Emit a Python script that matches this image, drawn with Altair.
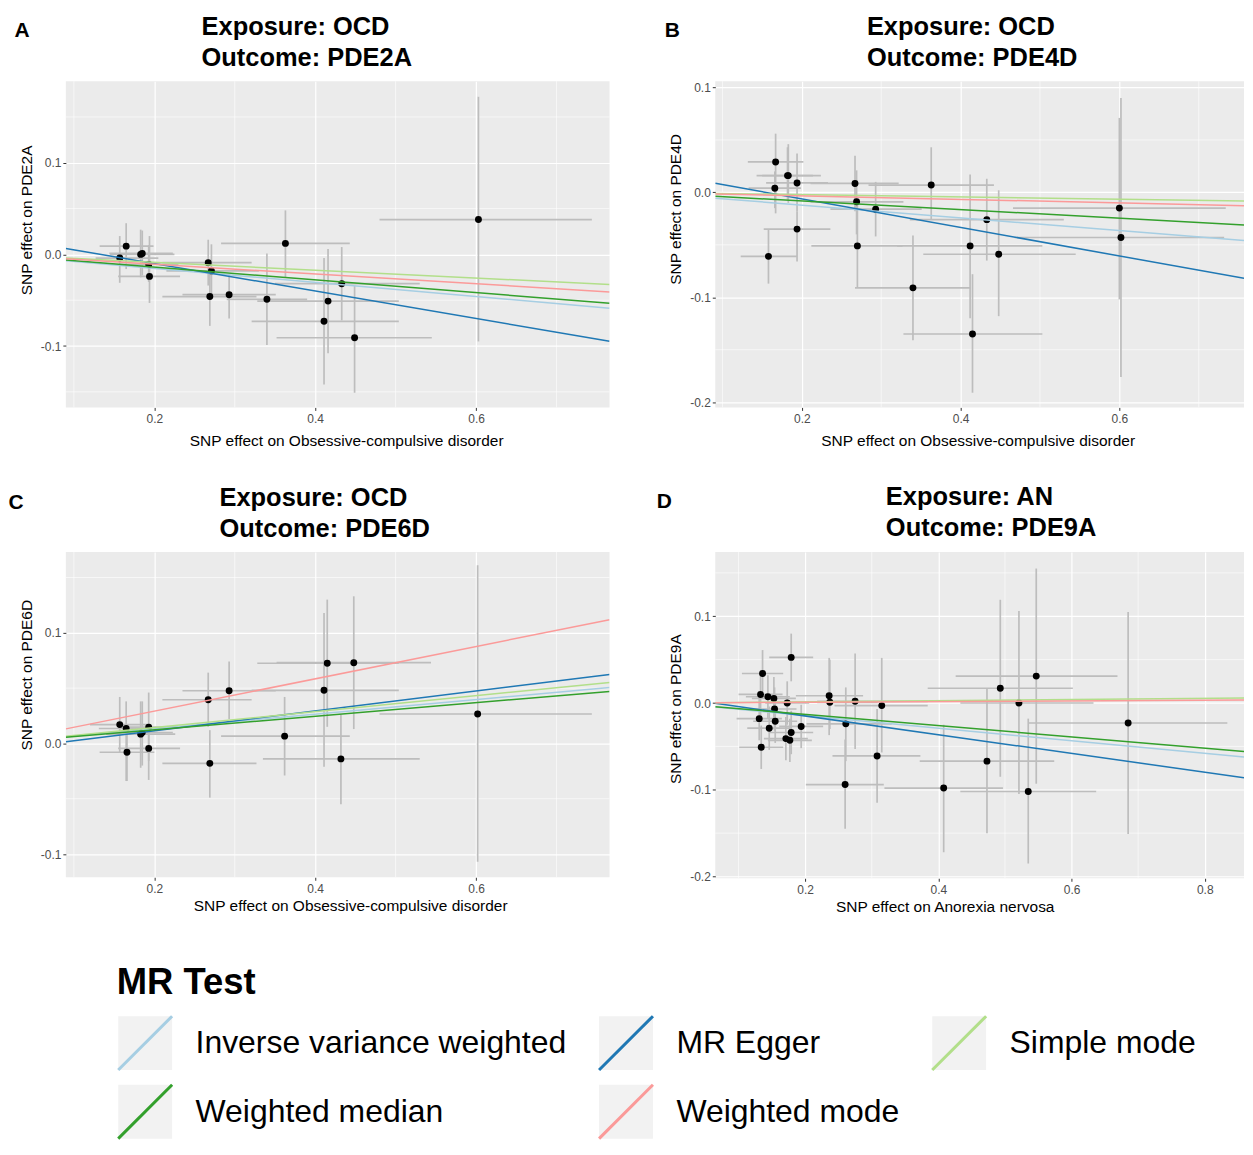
import altair as alt
import pandas as pd

FONT = "Liberation Sans"

methods = ["Inverse variance weighted", "MR Egger", "Simple mode", "Weighted median", "Weighted mode"]
method_colors = ["#a6cee3", "#1f78b4", "#b2df8a", "#33a02c", "#fb9a99"]
KEY_FILL = "#f2f2f2"
ERR = "#bdbdbd"

# ---------------- Panel A: OCD -> PDE2A ----------------
a_x   = [0.165, 0.157, 0.183, 0.185, 0.193, 0.194, 0.267, 0.271, 0.269, 0.293, 0.340, 0.363, 0.416, 0.411, 0.433, 0.449, 0.603]
a_y   = [0.009, -0.004, 0.000, 0.001, -0.011, -0.024, -0.009, -0.018, -0.046, -0.044, -0.049, 0.012, -0.051, -0.073, -0.032, -0.091, 0.038]
a_xlo = [0.132, 0.127, 0.145, 0.144, 0.158, 0.155, 0.210, 0.215, 0.210, 0.235, 0.290, 0.283, 0.328, 0.321, 0.350, 0.352, 0.480]
a_xhi = [0.199, 0.205, 0.225, 0.223, 0.230, 0.232, 0.321, 0.330, 0.327, 0.351, 0.390, 0.443, 0.504, 0.504, 0.530, 0.545, 0.744]
a_ylo = [-0.016, -0.031, -0.025, -0.023, -0.030, -0.053, -0.034, -0.047, -0.078, -0.070, -0.099, -0.025, -0.108, -0.142, -0.072, -0.151, -0.095]
a_yhi = [0.034, 0.020, 0.027, 0.026, 0.010, 0.020, 0.016, 0.011, -0.014, -0.022, 0.001, 0.048, 0.006, -0.004, 0.008, -0.034, 0.172]
a_slope = [-0.0766, -0.150, -0.043, -0.0695, -0.0535]
a_icpt  = [0.0, 0.020, 0.0, 0.0, 0.0]

# ---------------- Panel B: OCD -> PDE4D ----------------
b_x   = [0.167, 0.166, 0.183, 0.182, 0.194, 0.194, 0.158, 0.267, 0.269, 0.293, 0.270, 0.363, 0.433, 0.412, 0.448, 0.340, 0.415, 0.600, 0.602]
b_y   = [0.029, 0.004, 0.016, 0.016, 0.009, -0.035, -0.061, 0.0085, -0.009, -0.016, -0.051, 0.007, -0.026, -0.051, -0.059, -0.091, -0.135, -0.015, -0.043]
b_xlo = [0.132, 0.133, 0.143, 0.150, 0.155, 0.152, 0.123, 0.211, 0.211, 0.236, 0.212, 0.284, 0.336, 0.320, 0.353, 0.267, 0.328, 0.466, 0.468]
b_xhi = [0.202, 0.199, 0.224, 0.214, 0.233, 0.236, 0.194, 0.322, 0.328, 0.351, 0.327, 0.442, 0.530, 0.503, 0.545, 0.412, 0.503, 0.734, 0.732]
b_ylo = [-0.020, -0.015, -0.010, -0.007, -0.018, -0.066, -0.087, -0.018, -0.040, -0.042, -0.091, -0.026, -0.065, -0.120, -0.118, -0.141, -0.191, -0.102, -0.176]
b_yhi = [0.056, 0.020, 0.046, 0.043, 0.037, -0.018, -0.035, 0.035, 0.021, 0.010, -0.009, 0.043, 0.013, 0.017, 0.002, -0.041, -0.078, 0.071, 0.090]
b_slope = [-0.0607, -0.136, -0.0109, -0.041, -0.0167]
b_icpt  = [0.0, 0.021, 0.0, 0.0, 0.0]

# ---------------- Panel C: OCD -> PDE6D ----------------
c_x   = [0.157, 0.165, 0.166, 0.183, 0.185, 0.193, 0.193, 0.267, 0.269, 0.293, 0.362, 0.411, 0.415, 0.448, 0.432, 0.602]
c_y   = [0.017, 0.0135, -0.008, 0.0084, 0.0099, 0.0147, -0.0045, 0.0395, -0.018, 0.0476, 0.0066, 0.048, 0.0725, 0.073, -0.014, 0.0266]
c_xlo = [0.120, 0.131, 0.132, 0.140, 0.145, 0.155, 0.155, 0.210, 0.210, 0.235, 0.283, 0.321, 0.328, 0.352, 0.335, 0.480]
c_xhi = [0.195, 0.199, 0.200, 0.226, 0.223, 0.231, 0.232, 0.321, 0.327, 0.351, 0.443, 0.504, 0.504, 0.544, 0.530, 0.744]
c_ylo = [-0.008, -0.034, -0.034, -0.022, -0.020, -0.016, -0.033, 0.015, -0.049, 0.022, -0.029, -0.021, 0.015, 0.013, -0.055, -0.107]
c_yhi = [0.042, 0.038, 0.016, 0.038, 0.038, 0.046, 0.018, 0.064, 0.012, 0.074, 0.042, 0.118, 0.130, 0.133, 0.026, 0.161]
c_slope = [0.066, 0.090, 0.072, 0.0614, 0.146]
c_icpt  = [0.0, -0.0066, 0.0, 0.0, 0.0]

# ---------------- Panel D: AN -> PDE9A ----------------
d_x   = [0.179, 0.136, 0.133, 0.144, 0.153, 0.173, 0.154, 0.131, 0.155, 0.146, 0.179, 0.194, 0.171, 0.177, 0.134,
         0.236, 0.237, 0.275, 0.315, 0.261, 0.308, 0.260, 0.408, 0.473, 0.493, 0.521, 0.547, 0.535, 0.685]
d_y   = [0.0526, 0.034, 0.0099, 0.0072, 0.0053, 0.0, -0.0069, -0.018, -0.021, -0.029, -0.034, -0.027, -0.041, -0.043, -0.051,
         0.0084, 0.0008, 0.002, -0.003, -0.024, -0.061, -0.094, -0.098, -0.067, 0.017, 0.0, 0.031, -0.102, -0.023]
d_xlo = [0.146, 0.105, 0.100, 0.111, 0.120, 0.140, 0.121, 0.097, 0.122, 0.113, 0.146, 0.161, 0.138, 0.144, 0.101,
         0.186, 0.218, 0.218, 0.244, 0.202, 0.241, 0.201, 0.319, 0.372, 0.384, 0.433, 0.426, 0.433, 0.535]
d_xhi = [0.212, 0.167, 0.166, 0.177, 0.186, 0.206, 0.187, 0.165, 0.188, 0.179, 0.212, 0.227, 0.204, 0.210, 0.167,
         0.287, 0.309, 0.384, 0.384, 0.330, 0.373, 0.318, 0.497, 0.574, 0.602, 0.633, 0.669, 0.637, 0.834]
d_ylo = [0.025, 0.008, -0.015, -0.018, -0.020, -0.025, -0.032, -0.043, -0.046, -0.054, -0.059, -0.052, -0.066, -0.068, -0.076,
         -0.037, -0.030, -0.053, -0.057, -0.067, -0.115, -0.145, -0.172, -0.150, -0.085, -0.105, -0.093, -0.185, -0.151]
d_yhi = [0.080, 0.061, 0.035, 0.032, 0.030, 0.025, 0.018, 0.007, 0.004, -0.004, -0.009, -0.002, -0.016, -0.018, -0.026,
         0.052, 0.050, 0.057, 0.052, 0.018, -0.007, -0.042, -0.025, 0.017, 0.119, 0.106, 0.155, -0.018, 0.105]
d_slope = [-0.0725, -0.108, 0.0067, -0.065, 0.004]
d_icpt  = [0.0, 0.0067, 0.0, 0.0, 0.0]

# axis ticks
x_ticks_ocd = [0.2, 0.4, 0.6]
x_ticks_an = [0.2, 0.4, 0.6, 0.8]
x_minor = [0.1, 0.3, 0.5, 0.7]
a_yticks, a_yminor = [-0.1, 0.0, 0.1], [-0.15, -0.05, 0.05, 0.15]
b_yticks, b_yminor = [-0.2, -0.1, 0.0, 0.1], [-0.15, -0.05, 0.05]
c_yticks, c_yminor = [-0.1, 0.0, 0.1], [-0.05, 0.05, 0.15]
d_yticks, d_yminor = [-0.2, -0.1, 0.0, 0.1], [-0.15, -0.05, 0.05, 0.15]

LABEL_EXPR = "replace(format(datum.value, '.1f'), '\u2212', '-')"
AX = dict(domain=False, ticks=True, tickColor="#333333", tickSize=3, tickWidth=1,
          labelFont=FONT, labelFontSize=12, labelColor="#4d4d4d",
          titleFont=FONT, titleFontSize=15.5, titleFontWeight="normal", titleColor="black",
          grid=True, gridColor="white", gridWidth=1.2, labelExpr=LABEL_EXPR)

LX, LY = 51, 886
LEG = dict(orient="none", legendX=LX, legendY=LY, columns=3, direction="horizontal",
           title="MR Test", titleFont=FONT, titleFontSize=36.5, titleFontWeight="bold",
           titleColor="black", titlePadding=13, titleAnchor="start",
           labelFont=FONT, labelFontSize=32, labelColor="black", labelOffset=22, labelLimit=800,
           symbolSize=2916, symbolStrokeWidth=3, symbolOpacity=1,
           rowPadding=2, columnPadding=26, gridAlign="each")
line_legend = alt.Legend(symbolType="M-1,1L1,-1", zindex=1, **LEG)
key_legend = alt.Legend(symbolType="square", symbolStrokeColor="transparent", labelOpacity=0,
                        titleOpacity=0, zindex=0, **LEG)


def make_panel(letter, letter_xy, title_text, title_xy, xtitle, ytitle, xtitle_pos, ytitle_pos, xtitle_pad,
               xs, ys, xlo, xhi, ylo, yhi, slopes, icpts,
               xdom, ydom, xticks, yticks, xminor, yminor, w, h, line_leg, key_leg):
    pts = pd.DataFrame({"x": xs, "y": ys, "xlo": xlo, "xhi": xhi, "ylo": ylo, "yhi": yhi})
    ln = pd.DataFrame({"method": methods, "slope": slopes, "icpt": icpts})
    ln["x1"] = xdom[0]
    ln["x2"] = xdom[1]
    ln["y1"] = ln["icpt"] + ln["slope"] * xdom[0]
    ln["y2"] = ln["icpt"] + ln["slope"] * xdom[1]
    xsc = alt.Scale(domain=xdom, nice=False, zero=False)
    ysc = alt.Scale(domain=ydom, nice=False, zero=False)
    xaxis = alt.Axis(values=xticks, title=xtitle, titlePadding=xtitle_pad, labelPadding=3,
                     titleX=xtitle_pos, **AX)
    yaxis = alt.Axis(values=yticks, title=ytitle, titlePadding=6, labelPadding=2,
                     titleY=ytitle_pos, **AX)

    def X(f):
        return alt.X(f, scale=xsc, axis=xaxis)

    def Y(f):
        return alt.Y(f, scale=ysc, axis=yaxis)

    gx = alt.Chart(pd.DataFrame({"v": xminor})).mark_rule(color="white", strokeWidth=0.6).encode(x=X("v:Q"))
    gy = alt.Chart(pd.DataFrame({"v": yminor})).mark_rule(color="white", strokeWidth=0.6).encode(y=Y("v:Q"))
    eh = alt.Chart(pts).mark_rule(color=ERR, strokeWidth=1.7).encode(
        x=X("xlo:Q"), x2="xhi:Q", y=Y("y:Q"))
    ev = alt.Chart(pts).mark_rule(color=ERR, strokeWidth=1.7).encode(
        x=X("x:Q"), y=Y("ylo:Q"), y2="yhi:Q")
    pt = alt.Chart(pts).mark_circle(size=48, color="black", opacity=1).encode(
        x=X("x:Q"), y=Y("y:Q"))
    lines = alt.Chart(ln).mark_rule(strokeWidth=1.5, clip=True).encode(
        x=X("x1:Q"), x2="x2:Q", y=Y("y1:Q"), y2="y2:Q",
        stroke=alt.Stroke("method:N", scale=alt.Scale(domain=methods, range=method_colors),
                          legend=line_leg))
    lt = alt.Chart(pd.DataFrame({"t": [letter]})).mark_text(
        font=FONT, fontSize=21, fontWeight="bold", color="black", align="center", baseline="middle").encode(
        text="t:N", x=alt.value(letter_xy[0]), y=alt.value(letter_xy[1]))
    tt = alt.Chart(pd.DataFrame({"t": [title_text]})).mark_text(
        font=FONT, fontSize=25.5, fontWeight="bold", color="black", align="left", baseline="top",
        lineBreak="\n", lineHeight=31).encode(
        text="t:N", x=alt.value(title_xy[0]), y=alt.value(title_xy[1]))
    layers = [gx, gy, eh, ev, pt, lines, lt, tt]
    if key_leg is not None:
        keys = alt.Chart(ln).mark_square(size=10, opacity=1).encode(
            fill=alt.Fill("method:N", scale=alt.Scale(domain=methods, range=[KEY_FILL] * 5),
                          legend=key_leg)).transform_filter("false")
        layers.insert(0, keys)
    return alt.layer(*layers).properties(width=w, height=h)


pA = make_panel("A", (-44, -50), "Exposure: OCD\nOutcome: PDE2A", (136, -66),
                "SNP effect on Obsessive-compulsive disorder", "SNP effect on PDE2A", 281, 139, 9,
                a_x, a_y, a_xlo, a_xhi, a_ylo, a_yhi, a_slope, a_icpt,
                [0.090, 0.766], [-0.167, 0.189], x_ticks_ocd, a_yticks, x_minor, a_yminor, 545, 327,
                line_legend, key_legend)
pB = make_panel("B", (-43, -50), "Exposure: OCD\nOutcome: PDE4D", (152, -66),
                "SNP effect on Obsessive-compulsive disorder", "SNP effect on PDE4D", 263, 128, 9,
                b_x, b_y, b_xlo, b_xhi, b_ylo, b_yhi, b_slope, b_icpt,
                [0.091, 0.757], [-0.205, 0.106], x_ticks_ocd, b_yticks, x_minor, b_yminor, 530, 327,
                None, None)
pC = make_panel("C", (-50, -49), "Exposure: OCD\nOutcome: PDE6D", (154, -66),
                "SNP effect on Obsessive-compulsive disorder", "SNP effect on PDE6D", 285, 123, 4,
                c_x, c_y, c_xlo, c_xhi, c_ylo, c_yhi, c_slope, c_icpt,
                [0.090, 0.766], [-0.121, 0.173], x_ticks_ocd, c_yticks, x_minor, c_yminor, 545, 326,
                None, None)
pD = make_panel("D", (-51, -50), "Exposure: AN\nOutcome: PDE9A", (171, -67),
                "SNP effect on Anorexia nervosa", "SNP effect on PDE9A", 230, 157, 4,
                d_x, d_y, d_xlo, d_xhi, d_ylo, d_yhi, d_slope, d_icpt,
                [0.065, 0.859], [-0.202, 0.174], x_ticks_an, d_yticks, x_minor, d_yminor, 530, 327,
                None, None)

chart = alt.concat(pA, pB, pC, pD, columns=2, spacing={"row": 145, "column": 106}, bounds="flush").properties(
    padding={"left": 0, "top": 6, "right": 0, "bottom": 0}
).resolve_legend(fill="independent").configure(
    font=FONT, background="white",
    view=alt.ViewConfig(fill="#ebebeb", stroke="transparent", strokeWidth=0))

chart.save("out.html", embed_options={"renderer": "svg", "actions": False})
